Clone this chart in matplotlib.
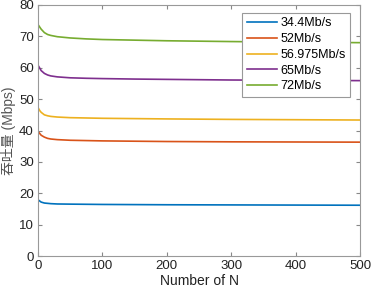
import matplotlib.pyplot as plt

plt.rcParams['font.family'] = ['Liberation Sans', 'Noto Sans CJK SC']

# 读取的数据点 (N, 吞吐量)
n = [1, 3, 5, 10, 15, 20, 30, 50, 75, 100, 150, 200, 300, 400, 500]
thr_34 = [17.8, 17.5, 17.2, 16.9, 16.8, 16.7, 16.6, 16.55, 16.5, 16.45, 16.4, 16.35, 16.3, 16.25, 16.2]
thr_52 = [39.5, 39.0, 38.5, 37.9, 37.5, 37.3, 37.1, 36.9, 36.8, 36.7, 36.6, 36.5, 36.4, 36.35, 36.3]
thr_57 = [47.0, 46.3, 45.8, 45.0, 44.7, 44.5, 44.3, 44.1, 44.0, 43.9, 43.8, 43.7, 43.55, 43.45, 43.35]
thr_65 = [60.5, 59.8, 59.1, 58.2, 57.7, 57.4, 57.1, 56.8, 56.65, 56.55, 56.4, 56.3, 56.1, 56.0, 55.9]
thr_72 = [73.5, 72.9, 72.3, 71.2, 70.6, 70.3, 69.9, 69.5, 69.2, 69.0, 68.8, 68.6, 68.35, 68.15, 68.0]

labels = ['34.4Mb/s', '52Mb/s', '56.975Mb/s', '65Mb/s', '72Mb/s']
colors = ['#0072BD', '#D95319', '#EDB120', '#7E2F8E', '#77AC30']

fig = plt.figure(figsize=(3.72, 2.94), dpi=100)
ax = fig.add_axes([0.102, 0.129, 0.866, 0.854])

for y, lab, c in zip([thr_34, thr_52, thr_57, thr_65, thr_72], labels, colors):
    ax.plot(n, y, color=c, lw=1.2, label=lab)

ax.set_xlim(0, 500)
ax.set_ylim(0, 80)
ax.set_xticks(range(0, 501, 100))
ax.set_yticks(range(0, 81, 10))
ax.tick_params(direction='in', length=3, top=True, right=True,
               labelsize=9.5, color='#888888', labelcolor='#222222', pad=3)
for s in ax.spines.values():
    s.set_color('#999999')
    s.set_linewidth(0.8)

ax.set_xlabel('Number of N', fontsize=10, color='#222222', labelpad=1)
ax.set_ylabel('吞吐量 (Mbps)', fontsize=10, color='#555555', labelpad=2)

leg = ax.legend(loc='upper right', bbox_to_anchor=(0.969, 0.968), fontsize=9,
                fancybox=False, framealpha=1, edgecolor='#999999',
                handlelength=2.4, handletextpad=0.3, borderpad=0.35,
                labelspacing=0.3, borderaxespad=0)
leg.get_frame().set_linewidth(0.8)

plt.savefig('out.png', dpi=100)
